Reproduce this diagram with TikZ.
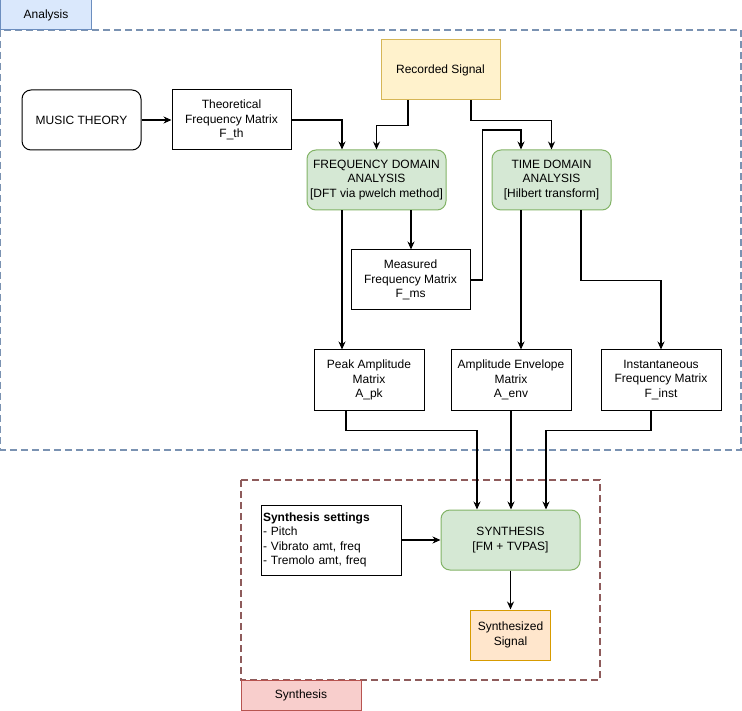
\documentclass[tikz,border=0pt]{standalone}
\usepackage{fontspec}
\setmainfont{Liberation Sans}
\usetikzlibrary{arrows.meta,calc}
\definecolor{bluefill}{HTML}{DAE8FC}
\definecolor{blueline}{HTML}{6C8EBF}
\definecolor{dashblue}{HTML}{7A92B2}
\definecolor{yelfill}{HTML}{FFF2CC}
\definecolor{yelline}{HTML}{D6B656}
\definecolor{grnfill}{HTML}{D5E8D4}
\definecolor{grnline}{HTML}{82B366}
\definecolor{redfill}{HTML}{F8CECC}
\definecolor{redline}{HTML}{B85450}
\definecolor{dashred}{HTML}{8E5B5B}
\definecolor{orgfill}{HTML}{FFE6CC}
\definecolor{orgline}{HTML}{D79B00}
\tikzset{
  base/.style={draw=black, line width=1pt, align=center, inner sep=2pt,
    font=\fontsize{12}{14.5}\selectfont},
  plainbox/.style={base, fill=white},
  roundbox/.style={base, fill=white, rounded corners=9pt},
  greenbox/.style={base, fill=grnfill, draw=grnline, rounded corners=9pt},
  yellowbox/.style={base, fill=yelfill, draw=yelline},
  orangebox/.style={base, fill=orgfill, draw=orgline},
  tabblue/.style={base, fill=bluefill, draw=blueline},
  tabred/.style={base, fill=redfill, draw=redline},
  container/.style={dashed, dash pattern=on 7pt off 4pt, line width=1.4pt},
  arr/.style={-{Stealth[length=8pt,width=7pt]}, line width=1.1pt, draw=black},
}
\begin{document}
\begin{tikzpicture}[x=1pt,y=-1pt]
\useasboundingbox (0,0) rectangle (742,711);
% containers
\draw[container, draw=dashblue] (0.8,30) rectangle (741,450);
\draw[container, draw=dashred] (241,480) rectangle (600,680);
\node[tabblue, minimum width=91pt, minimum height=30pt] (tabA) at (46,15) {Analysis};
\node[tabred, minimum width=120pt, minimum height=30pt] (tabS) at (301,695) {Synthesis};
% nodes
\node[yellowbox, minimum width=119pt, minimum height=60pt] (rs) at (440.5,70) {Recorded Signal};
\node[roundbox, minimum width=119pt, minimum height=60pt] (mt) at (81.5,120) {MUSIC THEORY};
\node[plainbox, minimum width=119pt, minimum height=60pt] (tfm) at (231.5,120) {Theoretical\\Frequency Matrix\\F\_th};
\node[greenbox, minimum width=139pt, minimum height=60pt] (fda) at (376.5,180) {FREQUENCY DOMAIN\\ANALYSIS\\{[}DFT via pwelch method{]}};
\node[greenbox, minimum width=119pt, minimum height=60pt] (tda) at (551.5,180) {TIME DOMAIN\\ANALYSIS\\{[}Hilbert transform{]}};
\node[plainbox, minimum width=119pt, minimum height=60pt] (mfm) at (410.5,280) {Measured\\Frequency Matrix\\F\_ms};
\node[plainbox, minimum width=110pt, minimum height=60pt] (pk) at (369,380) {Peak Amplitude\\Matrix\\A\_pk};
\node[plainbox, minimum width=120pt, minimum height=60pt] (env) at (511,380) {Amplitude Envelope\\Matrix\\A\_env};
\node[plainbox, minimum width=120pt, minimum height=60pt] (inst) at (661,380) {Instantaneous\\Frequency Matrix\\F\_inst};
\node[plainbox, minimum width=140pt, minimum height=70pt, align=left, text width=136pt] (set) at (331,540) {\textbf{Synthesis settings}\\- Pitch\\- Vibrato amt, freq\\- Tremolo amt, freq};
\node[greenbox, minimum width=139pt, minimum height=60pt] (syn) at (510.5,540) {SYNTHESIS\\{[}FM + TVPAS{]}};
\node[orangebox, minimum width=80pt, minimum height=50pt] (out) at (510.5,635) {Synthesized\\Signal};
% connectors
\draw[arr] (mt) -- (tfm);
\draw[arr] (tfm.east) -| ([xshift=-34.5pt]fda.north);
\draw[arr] ([xshift=-32.5pt]rs.south) -- ++(0,25) -| (fda.north);
\draw[arr] ([xshift=30.5pt]rs.south) -- ++(0,20) -| (tda.north);
\draw[arr] (mfm.east) -- ++(12,0) -- ++(0,-150) -| ([xshift=-30.5pt]tda.north);
\draw[arr] ([xshift=-34.5pt]fda.south) -- ([xshift=-34.5pt]fda.south |- pk.north);
\draw[arr] ([xshift=34.5pt]fda.south) -- ([xshift=34.5pt]fda.south |- mfm.north);
\draw[arr] ([xshift=-30.5pt]tda.south) -- ([xshift=-30.5pt]tda.south |- env.north);
\draw[arr] ([xshift=29.5pt]tda.south) -- ++(0,70) -| (inst.north);
\draw[arr] ([xshift=-23pt]pk.south) -- ++(0,20) -| ([xshift=-33.5pt]syn.north);
\draw[arr] (env.south) -- (env.south |- syn.north);
\draw[arr] ([xshift=-10pt]inst.south) -- ++(0,20) -| ([xshift=35.5pt]syn.north);
\draw[arr] (set.east) -- (syn.west);
\draw[arr] (syn.south) -- (out.north);
\end{tikzpicture}
\end{document}
